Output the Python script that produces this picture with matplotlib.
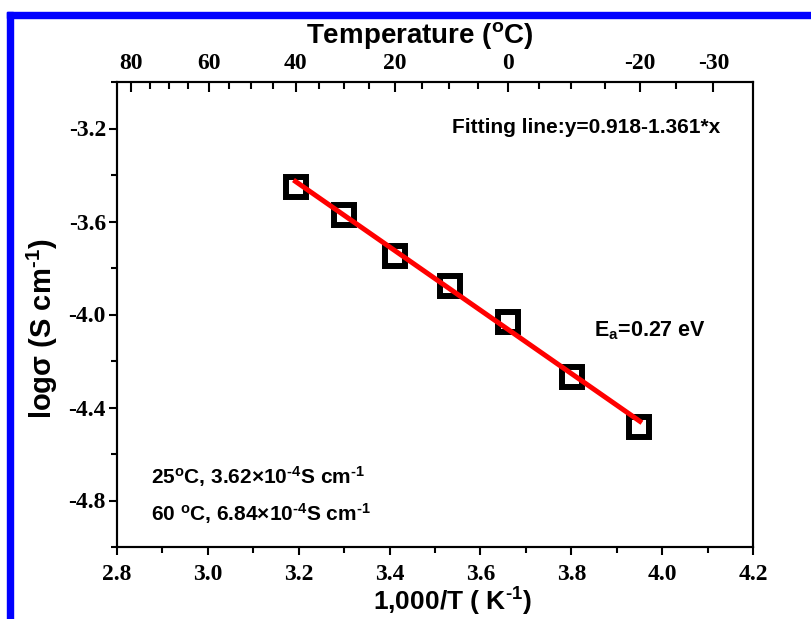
import matplotlib
matplotlib.use("Agg")
import matplotlib.pyplot as plt
from matplotlib.patches import Rectangle
from matplotlib.ticker import MultipleLocator, FixedLocator
import numpy as np

plt.rcParams['axes.unicode_minus'] = False
plt.rcParams['mathtext.fontset'] = 'custom'
plt.rcParams['mathtext.rm'] = 'Liberation Sans:bold'
plt.rcParams['mathtext.it'] = 'Liberation Sans:bold'
plt.rcParams['mathtext.bf'] = 'Liberation Sans:bold'
plt.rcParams['font.family'] = 'Liberation Serif'
plt.rcParams['font.weight'] = 'bold'
plt.rcParams['font.size'] = 17

# data
temp_c = [40, 30, 20, 10, 0, -10, -20]
inv_t = [3.193, 3.299, 3.411, 3.532, 3.661, 3.801, 3.950]
log_sigma = [-3.450, -3.572, -3.750, -3.876, -4.032, -4.269, -4.482]

# fitted line y = a + b*x
fit_a = 0.918
fit_b = -1.361
fit_x = np.array([inv_t[0], 3.951])

top_major = [80, 60, 40, 20, 0, -20, -30]
top_minor = [75, 70, 65, 55, 50, 45, 35, 30, 25, 15, 10, 5, -5, -10, -15, -25]

sans = dict(family='Liberation Sans', weight='bold')
m1 = r'$^{\text{-1}}$'
m4 = r'$^{\text{-4}}$'

fig = plt.figure(figsize=(8.12, 6.19), dpi=100)
ax = fig.add_axes([117/812, 72/619, 636/812, 465/619])

ax.plot(inv_t, log_sigma, 's', ms=14.5, mfc='white', mec='black', mew=4.3, zorder=2)
ax.plot(fit_x, fit_a + fit_b*fit_x, color='red', lw=3.6, zorder=3)

ax.set_xlim(2.8, 4.2)
ax.set_ylim(-5.0, -3.0)
ax.xaxis.set_major_locator(MultipleLocator(0.2))
ax.xaxis.set_minor_locator(MultipleLocator(0.1))
ax.set_yticks([-3.2, -3.6, -4.0, -4.4, -4.8])
ax.yaxis.set_minor_locator(MultipleLocator(0.2))
ax.tick_params(which='both', direction='out', width=1.5, top=False, right=False)
ax.tick_params(which='major', length=6)
ax.tick_params(axis='x', which='major', pad=6)
ax.tick_params(axis='y', which='major', pad=2)
ax.tick_params(which='minor', length=4)
for s in ax.spines.values():
    s.set_linewidth(1.5)

ax.set_xlabel('1,000/T ( K' + m1 + ')', fontsize=19, **sans)
ax.xaxis.set_label_coords(0.527, -0.084)
ax.set_ylabel('log\u03c3 (S cm' + m1 + ')', fontsize=21, **sans)
ax.yaxis.set_label_coords(-0.09, 0.47)

# top temperature axis
ax2 = ax.twiny()
ax2.set_xlim(ax.get_xlim())
ax2.xaxis.set_major_locator(FixedLocator([1000/(t + 273.15) for t in top_major]))
ax2.xaxis.set_minor_locator(FixedLocator([1000/(t + 273.15) for t in top_minor]))
ax2.set_xticklabels([str(t) for t in top_major])
ax2.tick_params(which='both', direction='in', width=1.5)
ax2.tick_params(which='major', length=7, pad=6)
ax2.tick_params(which='minor', length=5)
ax2.set_xlabel('Temperature ($^o$C)', fontsize=20, **sans)
ax2.xaxis.set_label_coords(0.476, 1.083)
for s in ax2.spines.values():
    s.set_linewidth(1.5)

ax.text(0.948, 0.903, 'Fitting line:y=0.918-1.361*x', transform=ax.transAxes,
        ha='right', va='center', fontsize=15, **sans)
ax.text(0.75, 0.465, 'E$_a$=0.27 eV', transform=ax.transAxes,
        ha='left', va='center', fontsize=15.5, **sans)
ax.text(0.053, 0.152, '25$^o$C, 3.62\u00d710' + m4 + 'S cm' + m1, transform=ax.transAxes,
        ha='left', va='center', fontsize=15, **sans)
ax.text(0.053, 0.072, '60 $^o$C, 6.84\u00d710' + m4 + 'S cm' + m1, transform=ax.transAxes,
        ha='left', va='center', fontsize=15, **sans)

# blue frame at top and left edge
fig.patches.append(Rectangle((7/812, 0), 6/812, 607/619, transform=fig.transFigure,
                             color='#0000ff', zorder=10))
fig.patches.append(Rectangle((7/812, 601/619), 805/812, 6/619, transform=fig.transFigure,
                             color='#0000ff', zorder=10))

fig.savefig('out.png', dpi=100)
plt.close(fig)
